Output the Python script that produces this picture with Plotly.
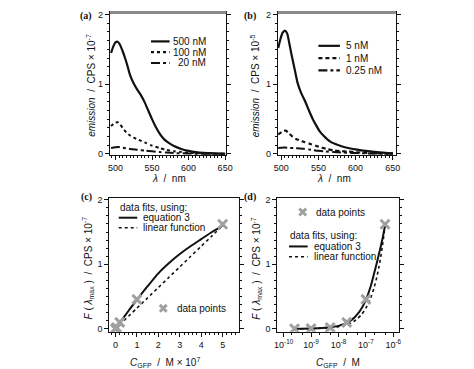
import plotly.graph_objects as go

W, H = 474, 369

# ---------------- data ----------------
# panel (a): emission spectra (CPS x 1e7)
wl_500 = [494, 497, 500, 503, 506, 510, 513, 516, 520, 525, 530, 535, 540, 545, 550, 555, 560, 565, 570, 575, 580, 590, 600, 610, 620, 635, 650]
em_500 = [1.45, 1.54, 1.60, 1.61, 1.57, 1.47, 1.38, 1.28, 1.13, 1.01, 0.92, 0.84, 0.74, 0.62, 0.50, 0.39, 0.30, 0.23, 0.18, 0.145, 0.115, 0.072, 0.045, 0.026, 0.015, 0.007, 0.003]
wl_100 = [494, 497, 500, 503, 506, 510, 515, 520, 525, 530, 540, 550, 560, 570, 580, 590, 600, 615, 630, 650]
em_100 = [0.40, 0.43, 0.45, 0.455, 0.43, 0.37, 0.31, 0.265, 0.235, 0.21, 0.165, 0.12, 0.085, 0.058, 0.040, 0.027, 0.018, 0.010, 0.005, 0.002]
wl_20 = [494, 500, 505, 510, 520, 530, 540, 550, 560, 570, 580, 600, 620, 650]
em_20 = [0.085, 0.095, 0.098, 0.09, 0.072, 0.06, 0.048, 0.037, 0.027, 0.019, 0.013, 0.006, 0.003, 0.001]

# panel (b): emission spectra (CPS x 1e5)
wl_5 = [496, 499, 502, 505, 508, 511, 514, 518, 522, 527, 532, 537, 542, 547, 552, 557, 562, 567, 572, 580, 590, 600, 610, 625, 640, 650]
em_5 = [1.52, 1.65, 1.74, 1.77, 1.73, 1.58, 1.42, 1.22, 1.02, 0.87, 0.76, 0.63, 0.51, 0.41, 0.32, 0.26, 0.21, 0.17, 0.145, 0.115, 0.085, 0.065, 0.048, 0.03, 0.016, 0.01]
wl_1 = [496, 500, 503, 506, 510, 515, 520, 530, 540, 550, 560, 570, 580, 590, 600, 615, 630, 650]
em_1 = [0.28, 0.31, 0.33, 0.335, 0.30, 0.25, 0.215, 0.175, 0.14, 0.105, 0.075, 0.05, 0.04, 0.033, 0.025, 0.015, 0.008, 0.004]
wl_025 = [496, 500, 505, 510, 520, 530, 540, 550, 560, 570, 580, 595, 610, 630, 650]
em_025 = [0.085, 0.09, 0.092, 0.088, 0.082, 0.075, 0.06, 0.045, 0.035, 0.027, 0.022, 0.015, 0.009, 0.005, 0.003]

# panels (c),(d): peak intensity vs concentration (CPS x 1e7)
conc_pts = [2.5e-10, 1e-9, 5e-9, 2e-8, 1e-7, 5e-7]
F_pts = [0.0009, 0.0034, 0.018, 0.10, 0.456, 1.62]
conc_fit = [2.5e-10, 1e-9, 5e-9, 1e-8, 2e-8, 3e-8, 4e-8, 5e-8, 7e-8, 1e-7, 1.5e-7, 2e-7, 2.5e-7, 3e-7, 3.5e-7, 4e-7, 4.5e-7, 5e-7]
F_eq3 = [0.0012, 0.0046, 0.023, 0.046, 0.092, 0.138, 0.184, 0.23, 0.32, 0.45, 0.66, 0.86, 1.02, 1.16, 1.28, 1.39, 1.50, 1.60]
F_lin = [0.0008, 0.0032, 0.016, 0.032, 0.064, 0.096, 0.128, 0.16, 0.224, 0.32, 0.48, 0.64, 0.80, 0.96, 1.12, 1.28, 1.44, 1.60]

# ---------------- styling ----------------
FONT = "Liberation Sans"
BLACK = "#111111"
GRAY = "#a0a0a0"

def px(x):
    return x / W

def py(y):
    return 1 - y / H

fig = go.Figure()

def line(x, y, xa, ya, dash="solid", width=2.0):
    fig.add_trace(go.Scatter(x=x, y=y, xaxis=xa, yaxis=ya, mode="lines",
                             line=dict(color=BLACK, width=width, dash=dash,
                                       shape="spline", smoothing=0.6),
                             showlegend=False, hoverinfo="skip"))

# (a)
line(wl_500, em_500, "x", "y", "solid", 2.2)
line(wl_100, em_100, "x", "y", "dot", 2.0)
line(wl_20, em_20, "x", "y", "dashdot", 2.0)
# (b)
line(wl_5, em_5, "x2", "y2", "solid", 2.2)
line(wl_1, em_1, "x2", "y2", "4px,3px", 2.2)
line(wl_025, em_025, "x2", "y2", "dashdot", 2.0)
# (c)
conc_fit_c = [c * 1e7 for c in conc_fit]
conc_pts_c = [c * 1e7 for c in conc_pts]
line(conc_fit_c, F_eq3, "x3", "y3", "solid", 2.0)
line(conc_fit_c, F_lin, "x3", "y3", "dot", 1.6)
fig.add_trace(go.Scatter(x=conc_pts_c, y=F_pts, xaxis="x3", yaxis="y3", mode="markers",
                         marker=dict(symbol="x-thin", size=9, line=dict(color=GRAY, width=3)),
                         showlegend=False, hoverinfo="skip"))
# (d)
line(conc_fit, F_eq3, "x4", "y4", "solid", 2.0)
line(conc_fit, F_lin, "x4", "y4", "dot", 1.6)
fig.add_trace(go.Scatter(x=conc_pts, y=F_pts, xaxis="x4", yaxis="y4", mode="markers",
                         marker=dict(symbol="x-thin", size=9, line=dict(color=GRAY, width=3)),
                         showlegend=False, hoverinfo="skip"))

tickfont = dict(family=FONT, size=9, color=BLACK)

def xax(domain, rng, anchor, dtick, minor_dtick, tickvals=None, ticktext=None, typ="linear"):
    d = dict(domain=domain, range=rng, anchor=anchor, showline=True, linecolor=BLACK, linewidth=1,
             mirror=True, ticks="outside", ticklen=4, tickwidth=1, tickcolor=BLACK,
             showgrid=False, zeroline=False, tickfont=tickfont, type=typ)
    if tickvals is not None:
        d.update(tickmode="array", tickvals=tickvals, ticktext=ticktext)
        d["minor"] = dict(tickmode="array", tickvals=minor_dtick, ticks="outside", ticklen=2,
                          tickwidth=1, tickcolor=BLACK, showgrid=False)
    else:
        d.update(dtick=dtick, tick0=0)
        d["minor"] = dict(dtick=minor_dtick, ticks="outside", ticklen=2, tickwidth=1,
                          tickcolor=BLACK, showgrid=False)
    return d

def yax(domain, rng, anchor):
    return dict(domain=domain, range=rng, anchor=anchor, showline=True, linecolor=BLACK, linewidth=1,
                mirror="ticks", ticks="outside", ticklen=4, tickwidth=1, tickcolor=BLACK,
                showgrid=False, zeroline=False, tickfont=tickfont, dtick=1, tick0=0,
                minor=dict(dtick=0.125, ticks="outside", ticklen=2, tickwidth=1,
                           tickcolor=BLACK, showgrid=False))

dom_a_x = [px(100), px(219)]
dom_b_x = [px(271.5), px(392)]
dom_c_x = [px(99.5), px(232)]
dom_d_x = [px(271), px(395)]
dom_top_y = [py(146.7), py(1.5)]
dom_bot_y = [py(327), py(190.5)]

minor_log = []
for e in range(-11, -5):
    for m in (2, 5):
        minor_log.append(m * 10.0 ** e)

fig.update_layout(
    width=W, height=H, margin=dict(l=0, r=0, t=0, b=0),
    paper_bgcolor="white", plot_bgcolor="white", showlegend=False,
    font=dict(family=FONT, size=10, color=BLACK),
    xaxis=xax(dom_a_x, [492.4, 651.7], "y", 50, 5),
    yaxis=yax(dom_top_y, [-0.014, 2.03], "x"),
    xaxis2=xax(dom_b_x, [495.4, 653.9], "y2", 50, 5),
    yaxis2=yax(dom_top_y, [-0.014, 2.03], "x2"),
    xaxis3=xax(dom_c_x, [-0.283, 5.767], "y3", 1, 0.2),
    yaxis3=yax(dom_bot_y, [-0.046, 2.029], "x3"),
    xaxis4=xax(dom_d_x, [-10.232, -5.804], "y4", None, minor_log,
               tickvals=[1e-10, 1e-9, 1e-8, 1e-7, 1e-6],
               ticktext=["10<sup>-10</sup>", "10<sup>-9</sup>", "10<sup>-8</sup>", "10<sup>-7</sup>", "10<sup>-6</sup>"],
               typ="log"),
    yaxis4=yax(dom_bot_y, [-0.046, 2.029], "x4"),
)

ann = []

def text(x, y, s, size=10, xanchor="left", angle=0, family=FONT, color=BLACK):
    ann.append(dict(x=px(x), y=py(y), xref="paper", yref="paper", text=s, showarrow=False,
                    xanchor=xanchor, yanchor="middle", textangle=angle,
                    font=dict(family=family, size=size, color=color)))

# panel labels
for lbl, x, y in [("(a)", 76, 5), ("(b)", 243, 5), ("(c)", 76, 190), ("(d)", 243, 190)]:
    text(x, y, "<b>" + lbl + "</b>", size=10, xanchor="center", family="Liberation Serif")

# axis titles
text(80, 76, "<i>emission</i>  /  CPS × 10<sup>-7</sup>", angle=-90, xanchor="center")
text(248, 76, "<i>emission</i>  /  CPS × 10<sup>-5</sup>", angle=-90, xanchor="center")
text(77, 262, "<i>F</i> ( <i>λ</i><sub>max</sub> )  /  CPS × 10<sup>-7</sup>", angle=-90, xanchor="center")
text(249, 262, "<i>F</i> ( <i>λ</i><sub>max</sub> )  /  CPS × 10<sup>-7</sup>", angle=-90, xanchor="center")
text(160, 171, "<i>λ</i>  /  nm", xanchor="center")
text(329, 171, "<i>λ</i>  /  nm", xanchor="center")
text(156, 358, "<i>C</i><sub>GFP</sub>  /  M × 10<sup>7</sup>", xanchor="center")
text(333, 359, "<i>C</i><sub>GFP</sub>  /  M", xanchor="center")

shapes = []

def sample(x0, x1, y, dash, width=2.0, color=BLACK):
    shapes.append(dict(type="line", xref="paper", yref="paper", x0=px(x0), x1=px(x1),
                       y0=py(y), y1=py(y), line=dict(color=color, width=width, dash=dash)))

def xmark(cx, cy, r=3.5):
    sample_path = "M {a},{b} L {c},{d} M {a},{d} L {c},{b}".format(
        a=px(cx - r), c=px(cx + r), b=py(cy - r), d=py(cy + r))
    shapes.append(dict(type="path", xref="paper", yref="paper", path=sample_path,
                       line=dict(color=GRAY, width=3)))

# legend (a)
for i, (lbl, dash) in enumerate([("500 nM", "solid"), ("100 nM", "dot"), ("20 nM", "dashdot")]):
    y = 31 + i * 11
    sample(142, 161, y, dash, 2.2)
    text(200, y, lbl, xanchor="right")
# legend (b)
for i, (lbl, dash) in enumerate([("5 nM", "solid"), ("1 nM", "4px,3px"), ("0.25 nM", "dashdot")]):
    y = 35.5 + i * 12.5
    sample(313, 335, y, dash, 2.2)
    text(339, y, lbl)
# legend (c)
text(108, 200, "data fits, using:")
sample(109, 128, 210.7, "solid", 2.0)
text(132, 210.7, "equation 3")
sample(109, 128, 221, "dot", 1.6)
text(132, 221, "linear function")
xmark(154.5, 303)
text(167, 303, "data points")
# legend (d)
xmark(297, 205)
text(309, 205, "data points")
text(282, 229, "data fits, using:")
sample(283, 302, 240, "solid", 2.0)
text(306, 240, "equation 3")
sample(283, 302, 250.5, "dot", 1.6)
text(306, 250.5, "linear function")

# gray top bars on (a) and (b)
for x0, x1 in [(100, 219), (271.5, 392)]:
    shapes.append(dict(type="rect", xref="paper", yref="paper", x0=px(x0), x1=px(x1),
                       y0=py(3), y1=py(0), fillcolor="#8a8a8a", line=dict(width=0)))

fig.update_layout(annotations=ann, shapes=shapes)
fig.write_html("out.html")
